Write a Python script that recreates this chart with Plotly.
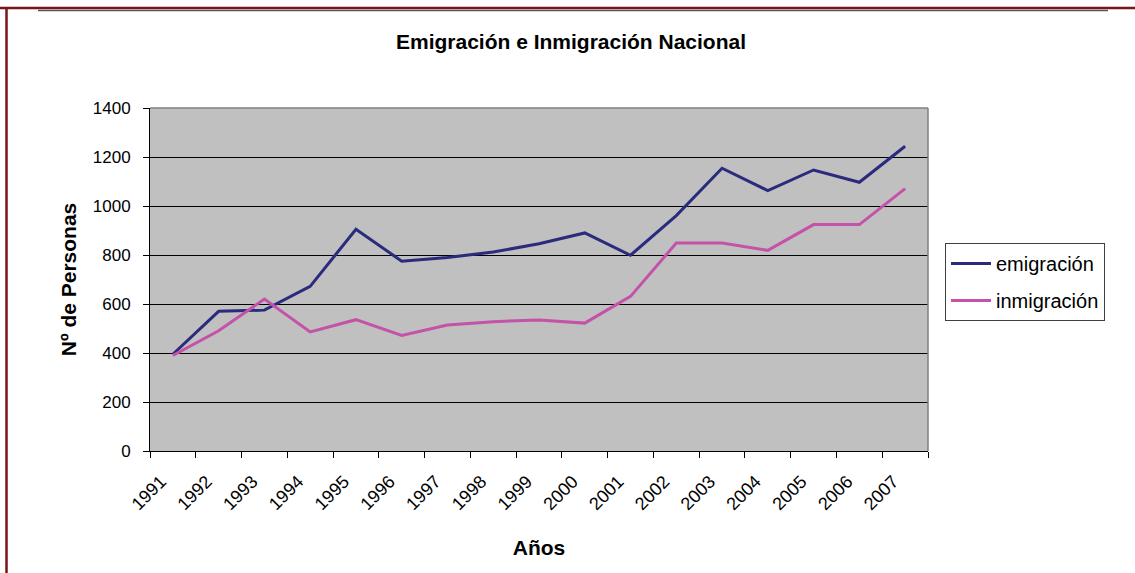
import plotly.graph_objects as go

years = [str(y) for y in range(1991, 2008)]
emigracion = [395, 570, 575, 672, 905, 775, 790, 812, 846, 890, 799, 961, 1154, 1063, 1147, 1097, 1244]
inmigracion = [390, 491, 620, 486, 536, 472, 514, 528, 535, 522, 631, 849, 849, 819, 924, 924, 1071]

W, H = 1135, 573
L, R, T, B = 150, 928, 108, 451


def px(x):
    return (x - L) / (R - L)


def py(y):
    return (B - y) / (B - T)


FONT = "Liberation Sans, Arial, sans-serif"

fig = go.Figure()
fig.add_trace(go.Scatter(x=years, y=emigracion, mode="lines", name="emigración",
                         line=dict(color="#2B2B7E", width=3), legendgroup="a"))
fig.add_trace(go.Scatter(x=years, y=inmigracion, mode="lines", name="inmigración",
                         line=dict(color="#C452A8", width=3), legendgroup="b"))

shapes = [
    dict(type="line", xref="paper", yref="paper", x0=0, x1=1, y0=1, y1=1,
         line=dict(color="#808080", width=1.5), layer="above"),
    dict(type="line", xref="paper", yref="paper", x0=1, x1=1, y0=0, y1=1,
         line=dict(color="#808080", width=1.5), layer="above"),
    dict(type="line", xref="paper", yref="paper", x0=px(0), x1=px(W), y0=py(8), y1=py(8),
         line=dict(color="#7A1517", width=2.5)),
    dict(type="line", xref="paper", yref="paper", x0=px(38), x1=px(1108), y0=py(10.5), y1=py(10.5),
         line=dict(color="#555555", width=1.5)),
    dict(type="line", xref="paper", yref="paper", x0=px(6.5), x1=px(6.5), y0=py(7), y1=py(H),
         line=dict(color="#7A1517", width=2.5)),
]

fig.update_layout(
    width=W, height=H,
    margin=dict(l=L, r=W - R, t=T, b=H - B),
    paper_bgcolor="white",
    plot_bgcolor="#C0C0C0",
    font=dict(family=FONT, color="black", size=17),
    title=dict(text="<b>Emigración e Inmigración Nacional</b>", xref="container", x=571 / W,
               xanchor="center", y=1 - 42 / H, yanchor="middle", font=dict(size=21, family=FONT)),
    showlegend=True,
    legend=dict(x=px(945), y=py(243), xanchor="left", yanchor="top",
                bordercolor="#404040", borderwidth=1, bgcolor="white",
                font=dict(size=20, family=FONT), tracegroupgap=8,
                itemwidth=40),
    shapes=shapes,
)

fig.update_xaxes(
    type="category", range=[-0.5, 16.5],
    showgrid=False, showline=True, linecolor="black", linewidth=1,
    ticks="outside", tickson="boundaries", ticklen=6, tickcolor="black",
    tickangle=-45, tickfont=dict(size=18, family=FONT),
    ticklabelshift=-12, ticklabelstandoff=12,
    title=dict(text="<b>Años</b>", font=dict(size=21, family=FONT), standoff=27),
    zeroline=False,
)
fig.update_yaxes(
    range=[0, 1400], dtick=200, tick0=0,
    showgrid=True, gridcolor="black", gridwidth=1,
    showline=True, linecolor="black", linewidth=1,
    ticks="outside", ticklen=6, tickcolor="black",
    tickfont=dict(size=17, family=FONT), ticklabelstandoff=9,
    title=dict(text="<b>Nº de Personas</b>", font=dict(size=21, family=FONT), standoff=10),
    zeroline=False,
)

fig.write_html("out.html", post_script="document.body.style.margin='0';",
               config={"displayModeBar": False})
